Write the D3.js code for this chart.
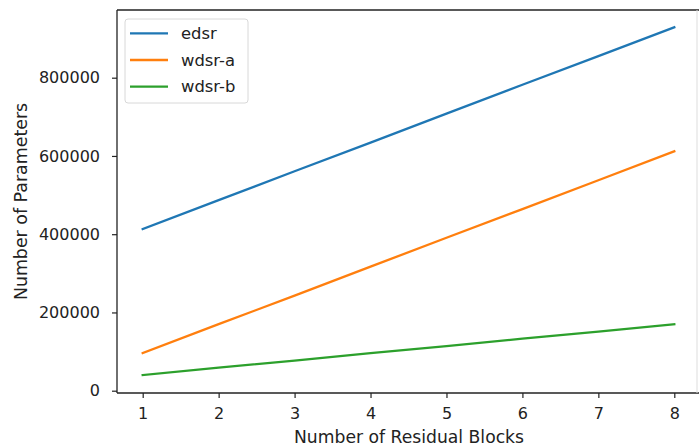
<!DOCTYPE html>
<html>
<head>
<meta charset="utf-8">
<script src="https://cdn.jsdelivr.net/npm/d3@7"></script>
<style>
  body { margin: 0; background: #fff; }
  svg { display: block; }
  .labelText { font-family: "DejaVu Sans", sans-serif; fill: #222; }
</style>
</head>
<body>
<svg id="chart"></svg>
<script>
const blocks = [1, 2, 3, 4, 5, 6, 7, 8];
const edsr = [413000, 487000, 561000, 634000, 708000, 782000, 855000, 929000];
const wdsrA = [96000, 170000, 243000, 317000, 391000, 464000, 538000, 612000];
const wdsrB = [40000, 59000, 77000, 96000, 114000, 133000, 151000, 170000];
const seriesNames = ['edsr', 'wdsr-a', 'wdsr-b'];
const yTicks = [0, 200000, 400000, 600000, 800000];

const width = 699;
const height = 447;
const plotLeft = 117;
const plotRight = 697;
const plotTop = 10;
const plotBottom = 393;
const colors = ['#1f77b4', '#ff7f0e', '#2ca02c'];

const series = [edsr, wdsrA, wdsrB].map((vals, i) => ({
  name: seriesNames[i],
  points: blocks.map((b, j) => ({ x: b, y: vals[j] }))
}));

const svg = d3.select('#chart')
  .attr('width', width)
  .attr('height', height);

const xscale = d3.scaleLinear()
  .domain([1, 8])
  .range([142.7, 674.3]);

const yscale = d3.scaleLinear()
  .domain([0, 800000])
  .range([390.7, 77.7]);

// axes
svg.append('g')
  .attr('transform', `translate(0, ${plotBottom})`)
  .call(d3.axisBottom(xscale).tickValues(blocks).tickFormat(d3.format('d')).tickSize(5).tickPadding(10))
  .call((g) => g.select('.domain').remove());

svg.append('g')
  .attr('transform', `translate(${plotLeft}, 0)`)
  .call(d3.axisLeft(yscale).tickValues(yTicks).tickFormat(d3.format('d')).tickSize(5).tickPadding(12))
  .call((g) => g.select('.domain').remove());

svg.selectAll('.tick line').attr('stroke', '#222').attr('stroke-width', 1.2);
svg.selectAll('.tick text')
  .attr('font-family', null)
  .attr('font-size', null)
  .attr('class', 'labelText')
  .style('font-size', '16px');

// lines
const line = d3.line()
  .x((d) => xscale(d.x))
  .y((d) => yscale(d.y));

svg.append('g')
  .selectAll('path')
  .data(series)
  .enter()
  .append('path')
  .attr('d', (d) => line(d.points))
  .attr('fill', 'none')
  .attr('stroke', (d, i) => colors[i])
  .attr('stroke-width', 2.3)
  .attr('stroke-linecap', 'square');

// spines
const spines = svg.append('g').attr('stroke-width', 1.3).attr('fill', 'none');
spines.append('line').attr('x1', plotLeft).attr('x2', plotLeft).attr('y1', plotTop).attr('y2', plotBottom).attr('stroke', '#222');
spines.append('line').attr('x1', plotLeft).attr('x2', width).attr('y1', plotTop).attr('y2', plotTop).attr('stroke', '#222');
spines.append('line').attr('x1', plotLeft).attr('x2', width).attr('y1', plotBottom).attr('y2', plotBottom).attr('stroke', '#222');
spines.append('line').attr('x1', plotRight).attr('x2', plotRight).attr('y1', plotTop).attr('y2', plotBottom).attr('stroke', '#ddd').attr('stroke-width', 1);

// axis labels
svg.append('text')
  .text('Number of Residual Blocks')
  .attr('x', (plotLeft + 701) / 2)
  .attr('y', 443)
  .attr('text-anchor', 'middle')
  .attr('class', 'labelText')
  .style('font-size', '17.2px');

svg.append('text')
  .text('Number of Parameters')
  .attr('transform', `translate(26.5, ${(plotTop + plotBottom) / 2}) rotate(-90)`)
  .attr('text-anchor', 'middle')
  .attr('class', 'labelText')
  .style('font-size', '17.4px');

// legend
const legend = svg.append('g');

legend.append('rect')
  .attr('x', 125)
  .attr('y', 19)
  .attr('width', 123)
  .attr('height', 84)
  .attr('rx', 3)
  .attr('fill', 'rgba(255,255,255,0.8)')
  .attr('stroke', '#d8d8d8')
  .attr('stroke-width', 1);

legend.selectAll('line')
  .data(seriesNames)
  .enter()
  .append('line')
  .attr('x1', 130)
  .attr('x2', 168)
  .attr('y1', (d, i) => 33.3 + i * 26.7)
  .attr('y2', (d, i) => 33.3 + i * 26.7)
  .attr('stroke', (d, i) => colors[i])
  .attr('stroke-width', 2.3);

legend.selectAll('text')
  .data(seriesNames)
  .enter()
  .append('text')
  .text((d) => d)
  .attr('x', 181)
  .attr('y', (d, i) => 33.3 + i * 26.7)
  .attr('dy', '0.35em')
  .attr('class', 'labelText')
  .style('font-size', '16.4px');
</script>
</body>
</html>
